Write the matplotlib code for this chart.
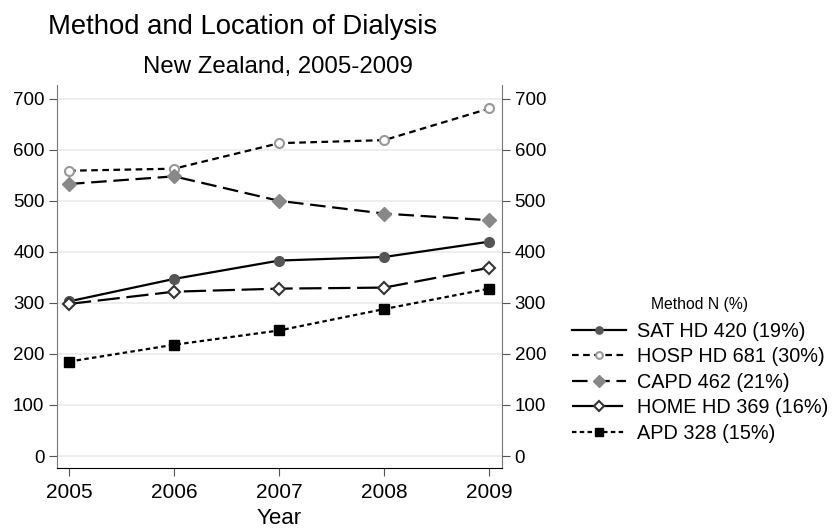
import matplotlib
matplotlib.use("Agg")
import matplotlib.pyplot as plt

years = [2005, 2006, 2007, 2008, 2009]
sat_hd = [303, 347, 383, 390, 420]
hosp_hd = [559, 563, 613, 619, 681]
capd = [533, 548, 500, 475, 462]
home_hd = [298, 322, 328, 330, 369]
apd = [185, 218, 246, 288, 328]
labels = ["SAT HD 420 (19%)", "HOSP HD 681 (30%)", "CAPD 462 (21%)",
          "HOME HD 369 (16%)", "APD 328 (15%)"]
yticks = [0, 100, 200, 300, 400, 500, 600, 700]

plt.rcParams['font.family'] = ['Liberation Sans', 'DejaVu Sans']
fig = plt.figure(figsize=(8.33, 5.3), dpi=100)
ax = fig.add_axes([57/833, 1-468/530, (502-57)/833, (468-85)/530])

styles = [
    dict(ls='-', marker='o', mfc='#555555', mec='#555555', ms=7),
    dict(ls=(0, (3, 2)), marker='o', mfc='white', mec='#999999', ms=6.5, mew=1.5),
    dict(ls=(0, (7, 3)), marker='D', mfc='#888888', mec='#888888', ms=7.5),
    dict(ls=(0, (10, 3)), marker='D', mfc='white', mec='#333333', ms=6.5, mew=1.5),
    dict(ls=(0, (2, 1.5)), marker='s', mfc='black', mec='black', ms=7),
]
series = [sat_hd, hosp_hd, capd, home_hd, apd]
handles = []
for s, st, lab in zip(series, styles, labels):
    h, = ax.plot(years, s, color='black', lw=1.6, label=lab, **st)
    handles.append(h)

ax.set_xlim(2004.886, 2009.12)
ax.set_ylim(-23.5, 727)
ax.set_xticks(years)
ax.set_yticks(yticks)
ax.grid(axis='y', color='#ebebeb', lw=1.2)
ax.set_axisbelow(True)
ax.tick_params(axis='y', labelsize=13.5, length=6, pad=3, color='#555555')
ax.tick_params(axis='x', labelsize=15, length=6, pad=5, color='#555555')
ax.set_xlabel("Year", fontsize=16, labelpad=4)
ax.spines['top'].set_visible(False)
ax.spines['left'].set_color('#777777')
ax.spines['right'].set_color('#777777')
ax.spines['bottom'].set_color('black')
ax2 = ax.twinx()
ax2.set_ylim(ax.get_ylim())
ax2.set_yticks(yticks)
ax2.tick_params(labelsize=13.5, length=6, pad=3, color='#555555')
for sp in ax2.spines.values():
    sp.set_visible(False)

fig.text(243/833, 1-34/530, "Method and Location of Dialysis", fontsize=19.8,
         ha='center', va='baseline')
fig.text(278/833, 1-73/530, "New Zealand, 2005-2009", fontsize=17.3,
         ha='center', va='baseline')

leg = fig.legend(handles=handles, loc='upper left', bbox_to_anchor=(572/833, 1-297/530),
                 frameon=False, fontsize=14.3, title="Method N (%)", title_fontsize=11.3,
                 handlelength=2.7, labelspacing=0.33, handletextpad=0.55,
                 borderaxespad=0, borderpad=0, markerscale=0.75)
leg._legend_box.sep = 7
fig.savefig("out.png", dpi=100)
